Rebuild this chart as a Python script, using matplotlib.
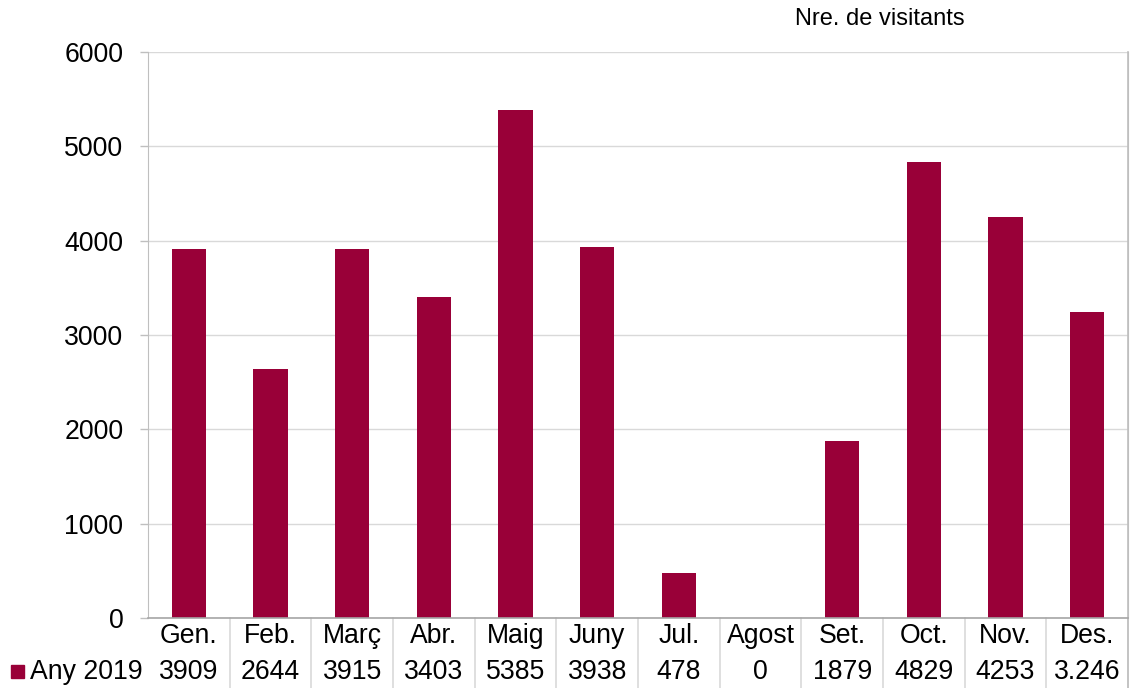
import matplotlib
matplotlib.use('Agg')
import matplotlib.pyplot as plt
from matplotlib.patches import Rectangle
import matplotlib.transforms as mtransforms

# data
months = ['Gen.', 'Feb.', 'Març', 'Abr.', 'Maig', 'Juny', 'Jul.', 'Agost',
          'Set.', 'Oct.', 'Nov.', 'Des.']
visitors = [3909, 2644, 3915, 3403, 5385, 3938, 478, 0, 1879, 4829, 4253, 3246]
value_labels = ['3909', '2644', '3915', '3403', '5385', '3938', '478', '0',
                '1879', '4829', '4253', '3.246']
series_name = 'Any 2019'
yticks = [0, 1000, 2000, 3000, 4000, 5000, 6000]

bar_color = '#990038'
grid_color = '#d9d9d9'
line_color = '#bfbfbf'
fs = 19.2

plt.rcParams['font.family'] = ['Liberation Sans', 'DejaVu Sans']

W, H = 1130, 688
fig = plt.figure(figsize=(W / 100, H / 100), dpi=100)
# plot area in pixels: x 148..1128, y 52..618
left, right, top, bottom = 148, 1128, 52, 618
ax = fig.add_axes([left / W, 1 - bottom / H, (right - left) / W, (bottom - top) / H])

x = list(range(len(months)))
ax.bar(x, visitors, width=0.42, color=bar_color, zorder=3)

ax.set_xlim(-0.5, len(months) - 0.5)
ax.set_ylim(0, 6000)
ax.set_yticks(yticks)
ax.set_yticklabels([str(t) for t in yticks], fontsize=fs)
ax.tick_params(axis='y', length=5.8, color=line_color, pad=12, width=1)
ax.set_xticks([])
ax.grid(axis='y', color=grid_color, linewidth=1, zorder=0)
for s in ['top', 'bottom']:
    ax.spines[s].set_visible(False)
ax.spines['left'].set_color(line_color)
ax.spines['right'].set_color(line_color)
ax.spines['right'].set_bounds(0, 6000)

# data table below the plot
trans = mtransforms.blended_transform_factory(ax.transData, ax.transAxes)
ph = bottom - top
row1 = -18 / ph
row2 = -54 / ph
table_bottom = -(H - bottom) / ph

ax.plot([-0.5, len(months) - 0.5], [0, 0], transform=trans, color='#a6a6a6',
        linewidth=1.2, clip_on=False, zorder=4)
for k in range(1, len(months) + 1):
    ax.plot([k - 0.5, k - 0.5], [0, table_bottom], transform=trans,
            color=grid_color, linewidth=1.2, clip_on=False)
ax.plot([len(months) - 0.5] * 2, [1, table_bottom], transform=trans,
        color=line_color, linewidth=1.2, clip_on=False)

for i, (m, v) in enumerate(zip(months, value_labels)):
    ax.text(i, row1, m, transform=trans, ha='center', va='center', fontsize=fs)
    ax.text(i, row2, v, transform=trans, ha='center', va='center', fontsize=fs)

# legend key + series name
fig.patches.append(Rectangle((11 / W, 1 - 678 / H), 13 / W, 13 / H,
                             transform=fig.transFigure, color=bar_color))
fig.text(30 / W, 1 - 672 / H, series_name, ha='left', va='center', fontsize=fs)

fig.text(880 / W, 1 - 19 / H, 'Nre. de visitants', ha='center', va='center',
         fontsize=17)

fig.savefig('out.png', dpi=100)
